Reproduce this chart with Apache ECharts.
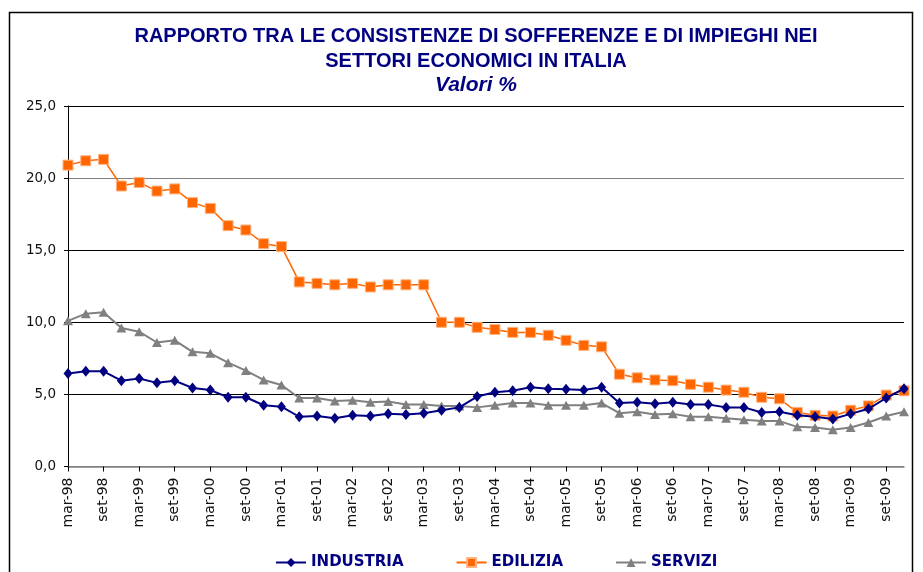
<!DOCTYPE html>
<html>
<head>
<meta charset="utf-8">
<script src="https://cdn.jsdelivr.net/npm/echarts@6/dist/echarts.min.js"></script>
<style>
    html, body { margin: 0; padding: 0; background: #fff; }
    #myChart { width: 923px; height: 572px; }
</style>
</head>
<body>
<div id="myChart"></div>
<script>
// trimestri, etichettati uno sì e uno no
var trimestri = [
    'mar-98', 'giu-98', 'set-98', 'dic-98', 'mar-99', 'giu-99', 'set-99', 'dic-99',
    'mar-00', 'giu-00', 'set-00', 'dic-00', 'mar-01', 'giu-01', 'set-01', 'dic-01',
    'mar-02', 'giu-02', 'set-02', 'dic-02', 'mar-03', 'giu-03', 'set-03', 'dic-03',
    'mar-04', 'giu-04', 'set-04', 'dic-04', 'mar-05', 'giu-05', 'set-05', 'dic-05',
    'mar-06', 'giu-06', 'set-06', 'dic-06', 'mar-07', 'giu-07', 'set-07', 'dic-07',
    'mar-08', 'giu-08', 'set-08', 'dic-08', 'mar-09', 'giu-09', 'set-09', 'dic-09'
];

var industria = [
    6.45, 6.6, 6.6, 5.95, 6.1, 5.8, 5.95, 5.45, 5.3, 4.8, 4.8, 4.25,
    4.15, 3.45, 3.5, 3.35, 3.55, 3.5, 3.65, 3.6, 3.7, 3.9, 4.1, 4.85,
    5.15, 5.25, 5.5, 5.4, 5.35, 5.3, 5.5, 4.4, 4.45, 4.35, 4.45, 4.3,
    4.3, 4.1, 4.1, 3.75, 3.8, 3.55, 3.45, 3.3, 3.65, 4.0, 4.75, 5.4
];

var edilizia = [
    20.9, 21.2, 21.3, 19.45, 19.7, 19.1, 19.25, 18.3, 17.9, 16.7, 16.4, 15.45,
    15.25, 12.8, 12.7, 12.6, 12.7, 12.45, 12.6, 12.6, 12.6, 10.0, 10.0, 9.65,
    9.5, 9.3, 9.3, 9.1, 8.75, 8.4, 8.3, 6.4, 6.15, 6.0, 5.95, 5.7,
    5.5, 5.3, 5.15, 4.8, 4.7, 3.75, 3.55, 3.5, 3.9, 4.2, 4.95, 5.25
];

var servizi = [
    10.1, 10.6, 10.7, 9.6, 9.35, 8.6, 8.75, 7.95, 7.85, 7.2, 6.65, 6.0,
    5.65, 4.75, 4.75, 4.55, 4.6, 4.45, 4.5, 4.3, 4.3, 4.2, 4.2, 4.1,
    4.25, 4.4, 4.4, 4.25, 4.25, 4.25, 4.4, 3.7, 3.8, 3.6, 3.65, 3.45,
    3.45, 3.35, 3.25, 3.15, 3.15, 2.75, 2.7, 2.55, 2.7, 3.05, 3.5, 3.8
];

var myChart = echarts.init(document.getElementById('myChart'));

var option = {
    animation: false,
    backgroundColor: '#fff',
    textStyle: { fontFamily: 'DejaVu Sans' },
    title: {
        text: 'RAPPORTO TRA LE CONSISTENZE DI SOFFERENZE E DI IMPIEGHI NEI\nSETTORI ECONOMICI IN ITALIA',
        subtext: 'Valori %',
        left: 471,
        textAlign: 'center',
        top: 19,
        itemGap: 1,
        textStyle: {
            fontFamily: 'Liberation Sans',
            fontWeight: 'bold',
            fontSize: 20,
            lineHeight: 25,
            color: '#000080'
        },
        subtextStyle: {
            fontFamily: 'Liberation Sans',
            fontWeight: 'bold',
            fontStyle: 'italic',
            fontSize: 21,
            color: '#000080'
        }
    },
    graphic: [{
        // cornice esterna
        type: 'rect',
        shape: { x: 9.5, y: 12.5, width: 903, height: 580 },
        style: { fill: 'none', stroke: '#000', lineWidth: 1.5 },
        silent: true
    }],
    legend: {
        data: ['INDUSTRIA', 'EDILIZIA', 'SERVIZI'],
        left: 275,
        top: 555,
        padding: 0,
        itemWidth: 30,
        itemHeight: 11,
        itemGap: 52,
        textStyle: {
            fontFamily: 'DejaVu Sans',
            fontWeight: 'bold',
            fontSize: 15,
            color: '#000080'
        }
    },
    grid: {
        left: 68,
        right: 19,
        top: 106,
        bottom: 105.5
    },
    xAxis: {
        type: 'category',
        data: trimestri,
        boundaryGap: false,
        axisLine: { lineStyle: { color: '#808080', width: 1.5 } },
        axisTick: { interval: 1, length: 5, lineStyle: { color: '#000' } },
        axisLabel: {
            interval: 1,
            rotate: 90,
            margin: 11,
            fontSize: 14,
            color: '#111'
        },
        splitLine: { show: false }
    },
    yAxis: {
        type: 'value',
        min: 0,
        max: 25,
        interval: 5,
        axisLine: { show: true, lineStyle: { color: '#000' } },
        axisTick: { show: true, length: 4, lineStyle: { color: '#000' } },
        axisLabel: {
            margin: 12,
            fontSize: 13.5,
            color: '#111',
            formatter: function (v) {
                return v.toFixed(1).replace('.', ',');  // virgola decimale
            }
        },
        splitLine: {
            lineStyle: {
                color: ['#808080', '#000', '#000', '#000', '#808080', '#000'],
                width: 1
            }
        }
    },
    series: [
        {
            name: 'INDUSTRIA',
            type: 'line',
            data: industria,
            symbol: 'diamond',
            symbolSize: [9, 11],
            z: 4,
            lineStyle: { color: '#000080', width: 2 },
            itemStyle: { color: '#000080' }
        },
        {
            name: 'EDILIZIA',
            type: 'line',
            data: edilizia,
            symbol: 'rect',
            symbolSize: 10,
            z: 3,
            lineStyle: { color: '#FF6600', width: 1.5 },
            itemStyle: { color: '#FF6600', borderColor: '#FFB27F', borderWidth: 1 }
        },
        {
            name: 'SERVIZI',
            type: 'line',
            data: servizi,
            symbol: 'triangle',
            symbolSize: [10, 9],
            z: 2,
            lineStyle: { color: '#808080', width: 2 },
            itemStyle: { color: '#808080' }
        }
    ]
};

myChart.setOption(option);
</script>
</body>
</html>
